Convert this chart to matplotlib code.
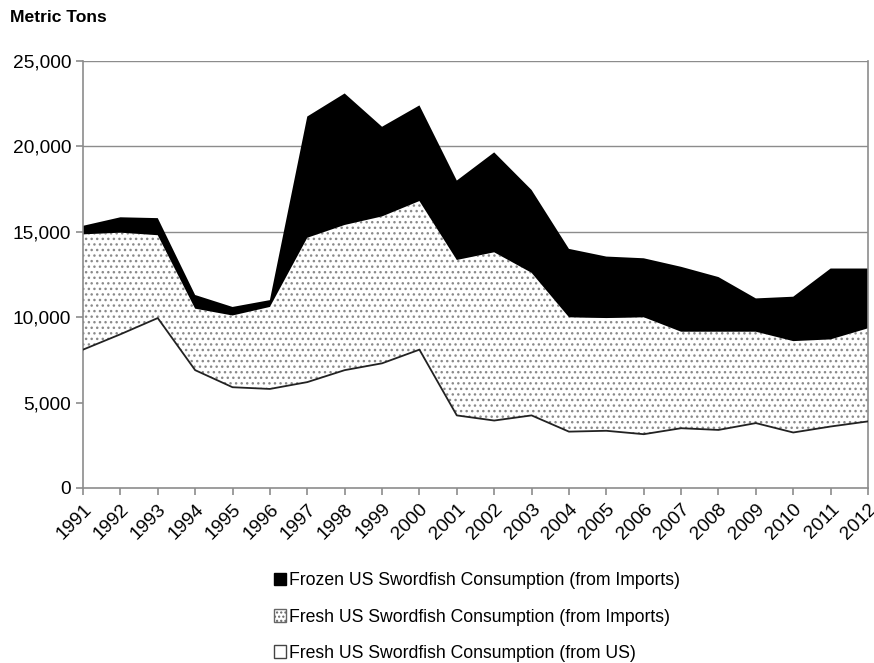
import matplotlib
matplotlib.use("Agg")
import matplotlib.pyplot as plt
from matplotlib.patches import Patch
import numpy as np

plt.rcParams["font.family"] = ["Liberation Sans", "DejaVu Sans"]
plt.rcParams["hatch.linewidth"] = 1.0
plt.rcParams["hatch.color"] = "#8a8a8a"

years = list(range(1991, 2013))

# metric tons
fresh_us = [8100, 9000, 9950, 6900, 5900, 5800, 6200, 6900, 7300, 8100, 4250,
            3950, 4250, 3300, 3350, 3150, 3500, 3400, 3800, 3250, 3600, 3900]
fresh_imports = [6750, 5950, 4850, 3600, 4200, 4800, 8450, 8500, 8600, 8700, 9100,
                 9850, 8350, 6700, 6600, 6850, 5650, 5750, 5350, 5350, 5100, 5450]
frozen_imports = [500, 900, 1000, 800, 500, 400, 7100, 7700, 5250, 5600, 4650,
                  5850, 4850, 4000, 3600, 3450, 3800, 3200, 1950, 2600, 4150, 3500]

labels = ["Frozen US Swordfish Consumption (from Imports)",
          "Fresh US Swordfish Consumption (from Imports)",
          "Fresh US Swordfish Consumption (from US)"]

fig = plt.figure(figsize=(8.74, 6.63), dpi=100)
ax = fig.add_axes([83 / 874, 1 - 488 / 663, 785 / 874, 427 / 663])

x = np.array(years)
us = np.array(fresh_us)
imp_top = us + np.array(fresh_imports)
frz_top = imp_top + np.array(frozen_imports)

ax.fill_between(x, 0, us, facecolor="white", linewidth=0, zorder=2)
ax.fill_between(x, us, imp_top, facecolor="white", edgecolor="#8a8a8a",
                hatch="...", linewidth=0, zorder=2)
ax.fill_between(x, imp_top, frz_top, facecolor="black", linewidth=0, zorder=2)
ax.plot(x, us, color="#222222", linewidth=1.3, zorder=3)

ax.set_xlim(1991, 2012)
ax.set_ylim(0, 25000)
ax.set_yticks(range(0, 25001, 5000))
ax.set_yticklabels([f"{v:,}" for v in range(0, 25001, 5000)], fontsize=13.8)
ax.set_xticks(years)
ax.set_xticklabels([str(y) for y in years], rotation=45, ha="right",
                   rotation_mode="anchor", fontsize=13.8)
ax.yaxis.grid(True, color="#8c8c8c", linewidth=1.0, zorder=1)
ax.set_axisbelow(True)

for side in ["left", "bottom", "right"]:
    ax.spines[side].set_color("#8c8c8c")
    ax.spines[side].set_linewidth(1.2)
ax.spines["top"].set_visible(False)
ax.tick_params(axis="both", direction="out", length=5, color="#8c8c8c", width=1.2)
ax.tick_params(axis="x", pad=4)

fig.text(10 / 874, 1 - 18 / 663, "Metric Tons", fontsize=12.6, fontweight="bold",
         va="center", ha="left")

handles = [Patch(facecolor="black", edgecolor="black"),
           Patch(facecolor="white", edgecolor="#666666", hatch="...."),
           Patch(facecolor="white", edgecolor="#444444")]
fig.legend(handles, labels, loc="center", bbox_to_anchor=(477 / 874, 1 - 617 / 663),
           frameon=False, fontsize=12.7, handlelength=0.7, handleheight=0.7,
           handletextpad=0.2, labelspacing=1.08)

fig.savefig("out.png", dpi=100)
